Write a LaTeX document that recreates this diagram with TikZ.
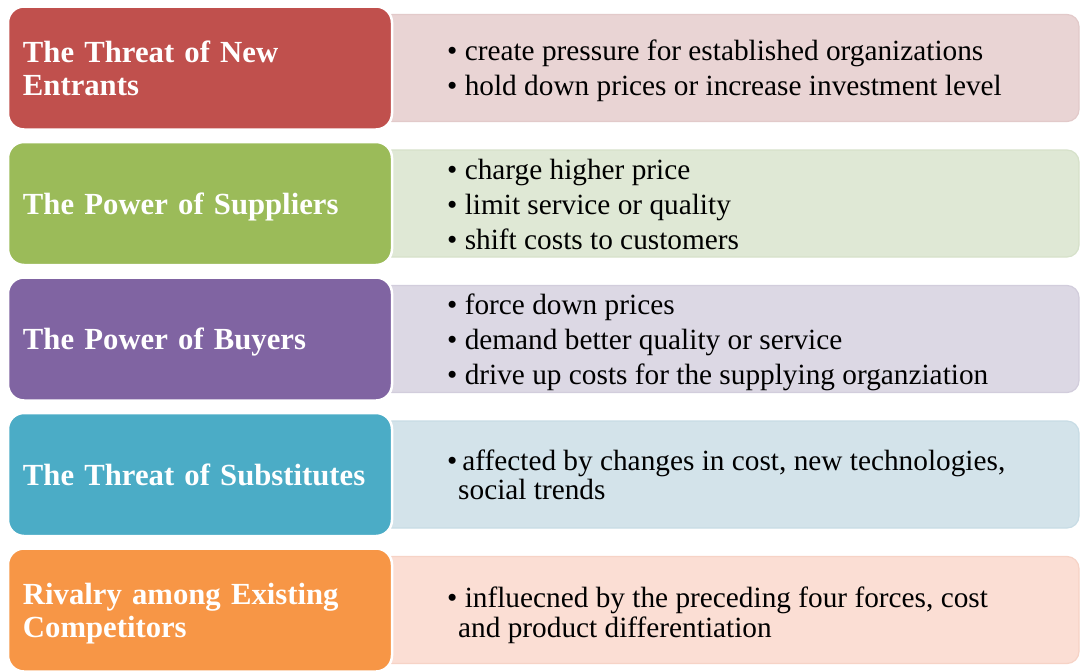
\documentclass[tikz,border=0pt]{standalone}
\usepackage{fontspec}
\setmainfont{Liberation Serif}
\usepackage{xcolor}
\usepackage{tikz}
\usetikzlibrary{positioning}

\definecolor{entrantred}{HTML}{C0504D}
\definecolor{entrantredl}{HTML}{E9D4D4}
\definecolor{entrantredb}{HTML}{E2CACA}
\definecolor{suppliergreen}{HTML}{9BBB59}
\definecolor{suppliergreenl}{HTML}{DFE8D5}
\definecolor{suppliergreenb}{HTML}{D6E1CA}
\definecolor{buyerpurple}{HTML}{8064A2}
\definecolor{buyerpurplel}{HTML}{DCD8E4}
\definecolor{buyerpurpleb}{HTML}{D2CDDC}
\definecolor{substteal}{HTML}{4BACC6}
\definecolor{substteall}{HTML}{D3E3EA}
\definecolor{substtealb}{HTML}{C8DCE5}
\definecolor{rivalorange}{HTML}{F79646}
\definecolor{rivalorangel}{HTML}{FBDED4}
\definecolor{rivalorangeb}{HTML}{F6D3C6}

\begin{document}
\begin{tikzpicture}[
		x=1pt,
		y=-1pt,
	]
		\tikzset{force/.style={
			draw=white,
			line width=2.5,
			rounded corners=16,
			minimum width=384,
			minimum height=123,
			inner xsep=15,
			text width=354,
			align=left,
			text=white,
			outer sep=0,
			anchor=east,
			font=\bfseries\fontsize{30.7pt}{33pt}\selectfont,
		}}
		\tikzset{effbox/.style={
			draw,
			line width=1.2,
			rounded corners=12,
			minimum width=699,
			minimum height=107,
			outer sep=0,
			anchor=west,
		}}
		\tikzset{effect/.style={
			anchor=west,
			align=left,
			inner sep=0,
			xshift=67,
			font=\fontsize{29.3pt}{35pt}\selectfont,
		}}

		\useasboundingbox (0,0) rectangle (1080,670);

		%---------------------------------
		% New entrants
		\node[
			effbox,
			fill=entrantredl,
			draw=entrantredb,
		] (effbox1) at (380,68) {};
		\node[
			force,
			fill=entrantred,
			xshift=12,
		] (force1) at (effbox1.west) {The Threat of New\\Entrants};
		\node[effect,yshift=-3] (effect1) at (effbox1.west)
			{\textbullet\ create pressure for established organizations\\
			\textbullet\ hold down prices or increase investment level};

		%---------------------------------
		% Suppliers
		\node[
			effbox,
			fill=suppliergreenl,
			draw=suppliergreenb,
		] (effbox2) at (380,203.5) {};
		\node[
			force,
			fill=suppliergreen,
			xshift=12,
			text depth=0pt,
		] (force2) at (effbox2.west) {The Power of Suppliers};
		\node[effect,yshift=-1] (effect2) at (effbox2.west)
			{\textbullet\ charge higher price\\
			\textbullet\ limit service or quality\\
			\textbullet\ shift costs to customers};

		%---------------------------------
		% Buyers
		\node[
			effbox,
			fill=buyerpurplel,
			draw=buyerpurpleb,
		] (effbox3) at (380,339) {};
		\node[
			force,
			fill=buyerpurple,
			xshift=12,
			text depth=0pt,
		] (force3) at (effbox3.west) {The Power of Buyers};
		\node[effect,yshift=-3.5] (effect3) at (effbox3.west)
			{\textbullet\ force down prices\\
			\textbullet\ demand better quality or service\\
			\textbullet\ drive up costs for the supplying organziation};

		%---------------------------------
		% Substitutes
		\node[
			effbox,
			fill=substteall,
			draw=substtealb,
		] (effbox4) at (380,474.5) {};
		\node[
			force,
			fill=substteal,
			xshift=12,
		] (force4) at (effbox4.west) {The Threat of Substitutes};
		\node[effect] (effect4) at (effbox4.west)
			{\textbullet\,affected by changes in cost, new technologies,\\[-6pt]
			\hspace*{11pt}social trends};

		%---------------------------------
		% Rivalry
		\node[
			effbox,
			fill=rivalorangel,
			draw=rivalorangeb,
		] (effbox5) at (380,610) {};
		\node[
			force,
			fill=rivalorange,
			xshift=12,
			text depth=32pt,
		] (force5) at (effbox5.west) {Rivalry among Existing\\Competitors};
		\node[effect,yshift=-5] (effect5) at (effbox5.west)
			{\textbullet\ influecned by the preceding four forces, cost\\[-5pt]
			\hspace*{11pt}and product differentiation};
	\end{tikzpicture}
\end{document}
